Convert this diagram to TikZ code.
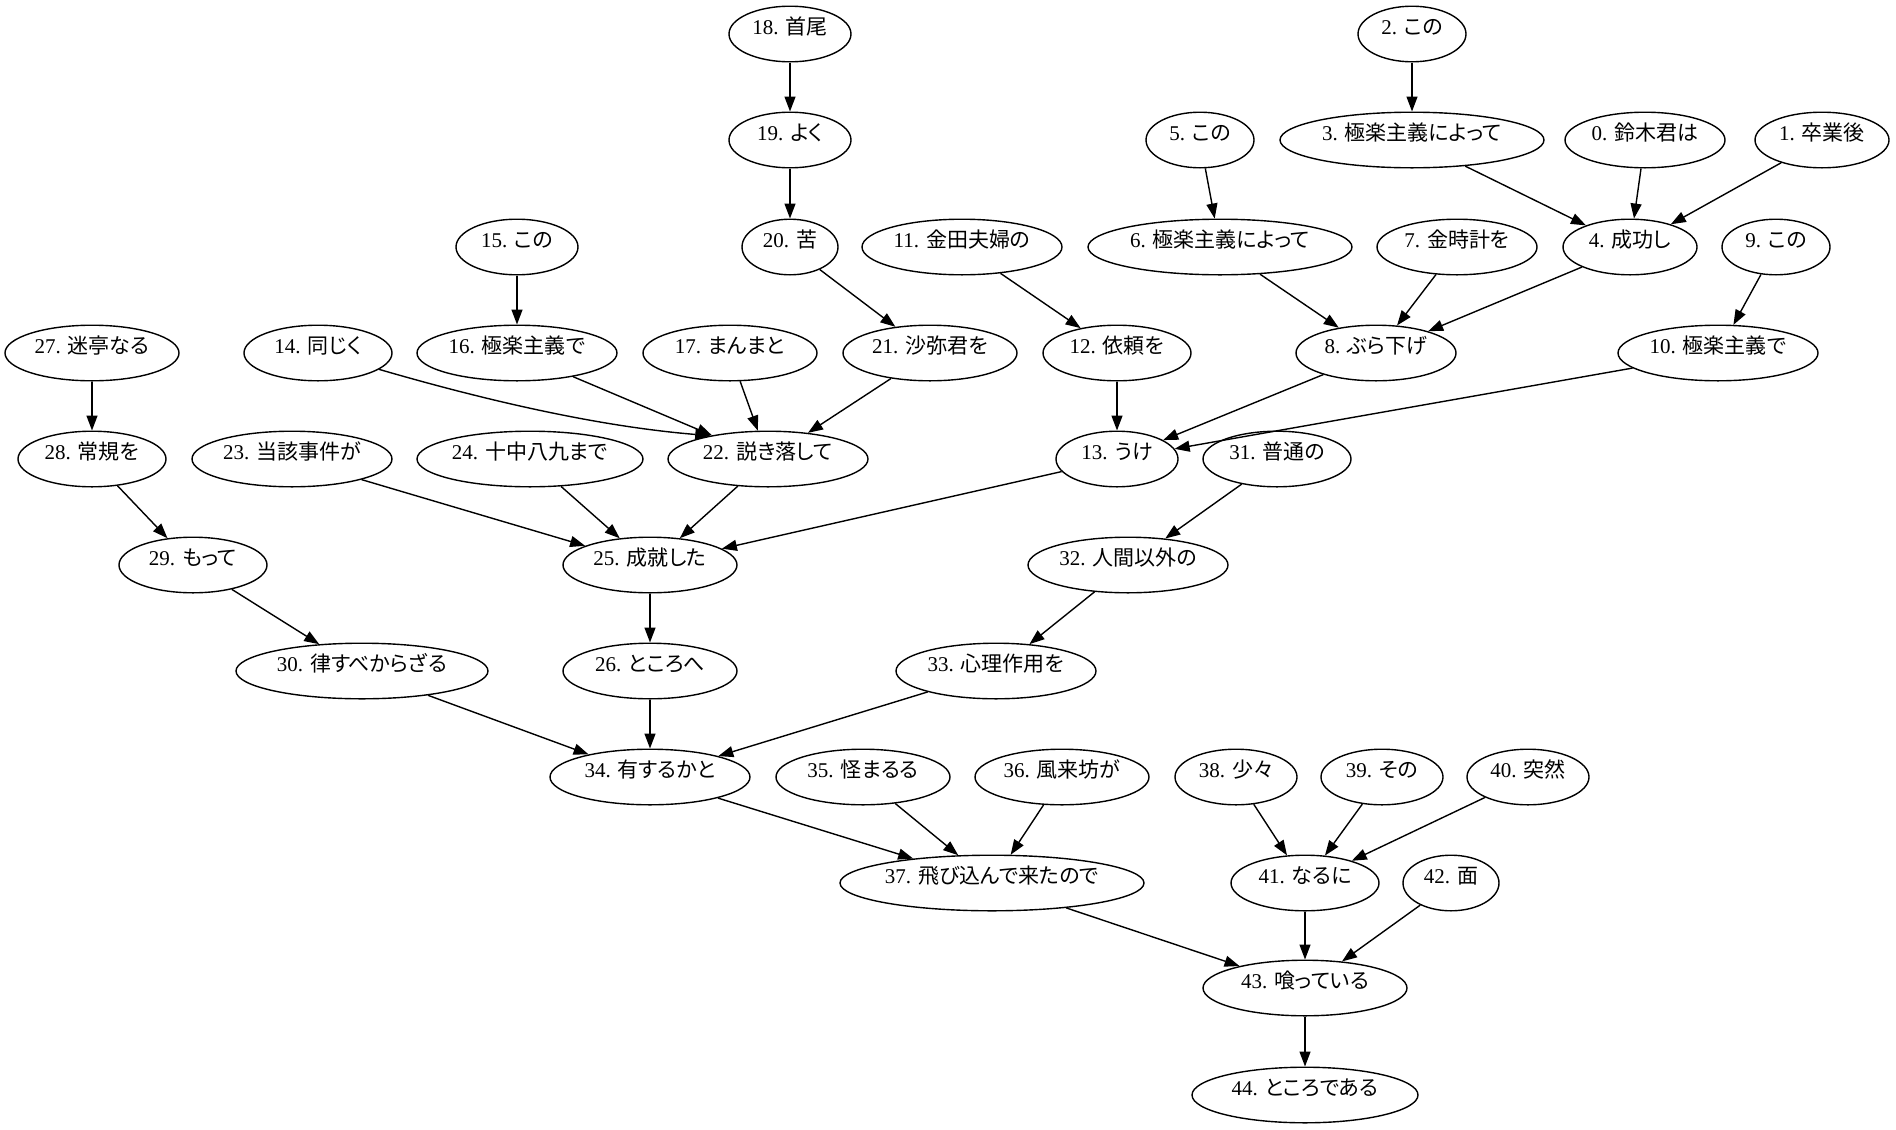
\documentclass[tikz,border=0pt]{standalone}
\usepackage{fontspec}
\setmainfont{Liberation Serif}
\newfontfamily\cjk[RawFeature=+palt]{Noto Sans CJK JP}
\usetikzlibrary{arrows.meta,shapes.geometric}

\tikzset{
  word/.style={draw, ellipse, line width=0.7pt, inner sep=0pt,
    minimum height=27.8pt, font=\fontsize{10.5pt}{12pt}\selectfont},
  dep/.style={-{Triangle[length=7.5pt,width=5.5pt]}, line width=0.7pt},
}

% \W{index}{x}{y}{width in px}{word}
\newcommand\W[5]{%
  \node[word, minimum width={(#4)*0.5pt}] (n#1) at (#2,#3)
    {\makebox[0pt]{\smash{#1. {\cjk #5}}}};}

\begin{document}
\begin{tikzpicture}[x=0.5pt, y=-0.5pt]
\useasboundingbox (0,0) rectangle (1896,1130);

% rank 1
\W{18}{790}{34}{122}{首尾}
\W{2}{1412}{34}{108}{この}
% rank 2
\W{19}{790}{140}{122}{よく}
\W{5}{1200}{140}{108}{この}
\W{3}{1412}{140}{264}{極楽主義によって}
\W{0}{1645}{140}{160}{鈴木君は}
\W{1}{1822}{140}{134}{卒業後}
% rank 3
\W{15}{517}{247}{122}{この}
\W{20}{790}{247}{96}{苦}
\W{11}{962}{247}{200}{金田夫婦の}
\W{6}{1220}{247}{264}{極楽主義によって}
\W{7}{1457}{247}{160}{金時計を}
\W{4}{1630}{247}{134}{成功し}
\W{9}{1776}{247}{108}{この}
% rank 4
\W{27}{92}{353}{174}{迷亭なる}
\W{14}{318}{353}{148}{同じく}
\W{16}{517}{353}{200}{極楽主義で}
\W{17}{730}{353}{174}{まんまと}
\W{21}{930}{353}{174}{沙弥君を}
\W{12}{1117}{353}{148}{依頼を}
\W{8}{1376}{353}{160}{ぶら下げ}
\W{10}{1718}{353}{200}{極楽主義で}
% rank 5
\W{28}{92}{459}{148}{常規を}
\W{23}{292}{459}{200}{当該事件が}
\W{24}{530}{459}{226}{十中八九まで}
\W{22}{768}{459}{200}{説き落して}
\W{13}{1117}{459}{122}{うけ}
\W{31}{1277}{459}{148}{普通の}
% rank 6
\W{29}{193}{565}{148}{もって}
\W{25}{650}{565}{174}{成就した}
\W{32}{1128}{565}{200}{人間以外の}
% rank 7
\W{30}{362}{671}{252}{律すべからざる}
\W{26}{650}{671}{174}{ところへ}
\W{33}{996}{671}{200}{心理作用を}
% rank 8
\W{34}{650}{777}{200}{有するかと}
\W{35}{863}{777}{174}{怪まるる}
\W{36}{1062}{777}{174}{風来坊が}
\W{38}{1236}{777}{122}{少々}
\W{39}{1382}{777}{122}{その}
\W{40}{1528}{777}{122}{突然}
% rank 9
\W{37}{992}{883}{304}{飛び込んで来たので}
\W{41}{1305}{883}{148}{なるに}
\W{42}{1451}{883}{96}{面}
% rank 10, 11
\W{43}{1305}{988}{204}{喰っている}
\W{44}{1305}{1095}{226}{ところである}

% dependency arcs
\foreach \a/\b in {18/19, 19/20, 20/21, 2/3, 3/4, 0/4, 1/4, 5/6, 6/8, 7/8,
  4/8, 9/10, 11/12, 15/16, 16/22, 17/22, 21/22, 12/13, 8/13, 10/13,
  27/28, 28/29, 29/30, 23/25, 24/25, 22/25, 13/25, 25/26, 31/32, 32/33,
  30/34, 26/34, 33/34, 34/37, 35/37, 36/37, 38/41, 39/41, 40/41,
  41/43, 42/43, 37/43, 43/44}
  \draw[dep] (n\a) -- (n\b);
% the long arc passing below 16
\draw[dep] (n14.-15) .. controls +(110,32) and +(-110,-9) .. (n22.158);
\end{tikzpicture}
\end{document}
